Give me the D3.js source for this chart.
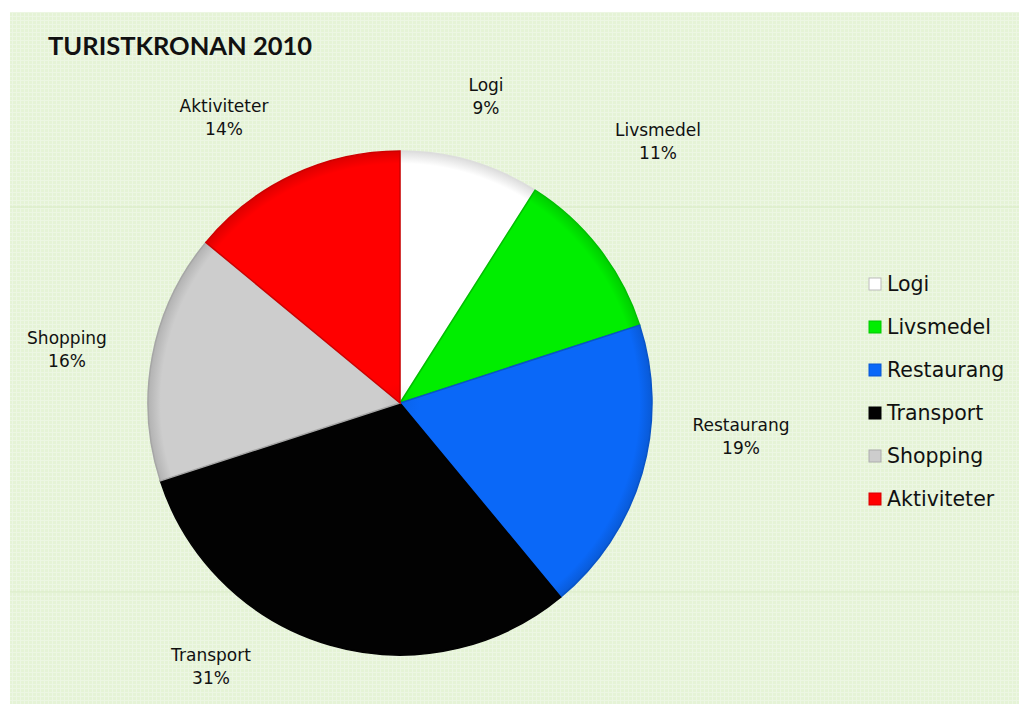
<!DOCTYPE html>
<html><head><meta charset="utf-8">
<script src="https://cdn.jsdelivr.net/npm/d3@7"></script>
<style>html,body{margin:0;padding:0;background:#fff;}svg{display:block;}</style>
</head><body>
<svg id="chart" width="1019" height="705"></svg>
<script>
const categories = ["Logi","Livsmedel","Restaurang","Transport","Shopping","Aktiviteter"];
const values = [9, 11, 19, 31, 16, 14];
const colors = ["#ffffff","#00ee00","#0a68f8","#020202","#cdcdcd","#ff0000"];
const title = "TURISTKRONAN 2010";

const svg = d3.select("#chart");
const defs = svg.append("defs");

const pat = defs.append("pattern").attr("id","bg").attr("width",4).attr("height",4).attr("patternUnits","userSpaceOnUse");
pat.append("rect").attr("width",4).attr("height",4).attr("fill","#e5f3d6");
pat.append("rect").attr("x",0).attr("y",0).attr("width",4).attr("height",1).attr("fill","#ecf6e3");
pat.append("rect").attr("x",0).attr("y",0).attr("width",1).attr("height",4).attr("fill","#ecf6e3");

svg.append("rect").attr("x",10).attr("y",12).attr("width",1009).attr("height",692).attr("fill","url(#bg)");
svg.append("line").attr("x1",10).attr("x2",1019).attr("y1",207).attr("y2",207).attr("stroke","#d8ebc4").attr("stroke-width",1);
svg.append("line").attr("x1",10).attr("x2",1019).attr("y1",592).attr("y2",592).attr("stroke","#d8ebc4").attr("stroke-width",1);

svg.append("text").attr("x",48).attr("y",55).text(title)
  .attr("font-family","Lato, 'Open Sans', sans-serif").attr("font-weight","bold")
  .attr("font-size",25.5).attr("fill","#111");

const cx = 400, cy = 403, r = 252;
const pie = d3.pie().sort(null).value(d => d);
const arcs = pie(values);
const arc = d3.arc().innerRadius(0).outerRadius(r);

colors.forEach((c,i) => {
  const g = defs.append("radialGradient").attr("id","g"+i)
    .attr("gradientUnits","userSpaceOnUse").attr("cx",0).attr("cy",0).attr("r",r);
  const base = d3.color(c);
  g.append("stop").attr("offset","0%").attr("stop-color", base.darker(0.15));
  g.append("stop").attr("offset","8%").attr("stop-color", c);
  g.append("stop").attr("offset","95%").attr("stop-color", c);
  g.append("stop").attr("offset","100%").attr("stop-color", base.darker(0.4));
});

const pg = svg.append("g").attr("transform",`translate(${cx},${cy})`);
pg.selectAll("path.slice").data(arcs).enter().append("path")
  .attr("class","slice")
  .attr("d", arc)
  .attr("fill", (d,i) => `url(#g${i})`)
  .attr("stroke", (d,i) => i===0 ? "#ddd" : d3.color(colors[i]).darker(0.6))
  .attr("stroke-width", 1.5);

const labelPos = [[486,91],[658,136],[741,431],[211,661],[67,344],[224,112]];
const lab = svg.append("g").attr("font-family","'DejaVu Sans', Verdana, sans-serif").attr("font-size",17).attr("fill","#111").attr("text-anchor","middle");
arcs.forEach((a,i) => {
  const t = lab.append("text").attr("x",labelPos[i][0]).attr("y",labelPos[i][1]);
  t.append("tspan").attr("x",labelPos[i][0]).attr("dy",0).text(categories[i]);
  t.append("tspan").attr("x",labelPos[i][0]).attr("dy",23).text(Math.round(a.data) + "%");
});

const leg = svg.append("g").attr("transform","translate(869,284)");
const ly = d3.scalePoint().domain(categories).range([0,215]);
categories.forEach((c,i) => {
  const g = leg.append("g").attr("transform",`translate(0,${ly(c)})`);
  g.append("rect").attr("x",0).attr("y",-6).attr("width",12).attr("height",12)
    .attr("fill",colors[i]).attr("stroke", i===0 ? "#bbb" : d3.color(colors[i]).darker(0.5)).attr("stroke-width",1);
  g.append("text").attr("x",18).attr("y",7).text(c)
    .attr("font-family","'DejaVu Sans', Verdana, sans-serif").attr("font-size",20.5).attr("fill","#111");
});
</script>
</body></html>
